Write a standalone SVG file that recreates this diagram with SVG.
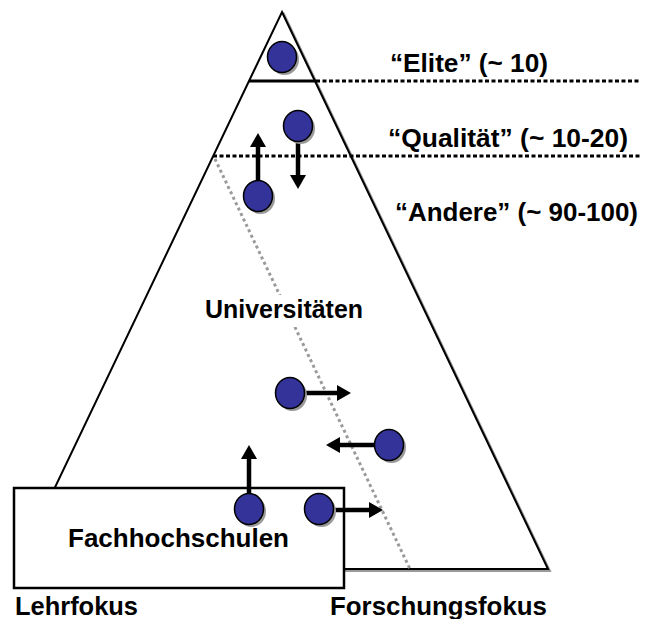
<svg xmlns="http://www.w3.org/2000/svg" width="650" height="619" viewBox="0 0 650 619">
<defs>
<style>
.lbl{font-family:"Liberation Sans",Arial,sans-serif;font-weight:bold;font-size:26px;fill:#000}
.dot{fill:#333399;stroke:#000;stroke-width:1.5}
.sh{fill:#9a9a9a}
.arr{stroke:#000;stroke-width:4.5;fill:none;marker-end:url(#ah)}
.blk{stroke:#000;stroke-width:3;stroke-dasharray:4 2.5;fill:none}
</style>
<marker id="ah" viewBox="0 0 14 16" refX="2" refY="8" markerWidth="14" markerHeight="16" markerUnits="userSpaceOnUse" orient="auto">
<path d="M0,0 L14,8 L0,16 z" fill="#000"/>
</marker>
</defs>
<rect width="650" height="619" fill="#fff"/>
<g id="pyramid">
<polygon points="284,14 550,571 18,571" fill="none" stroke="#9a9a9a" stroke-width="2"/>
<polygon points="282,12 548,569 16,569" fill="#fff" stroke="#000" stroke-width="2"/>
<line x1="249" y1="81" x2="316" y2="81" stroke="#000" stroke-width="3"/>
</g>
<g id="connectors">
<line x1="316" y1="81" x2="640" y2="81" class="blk"/>
<line x1="213" y1="156" x2="640" y2="156" class="blk"/>
<line x1="215" y1="159" x2="410" y2="569" stroke="#9a9a9a" stroke-width="3" stroke-dasharray="3 3"/>
</g>
<g id="universitaeten">
<rect x="200" y="295" width="168" height="32" fill="#fff"/>
<text class="lbl" x="205" y="318" textLength="158" lengthAdjust="spacingAndGlyphs">Universitäten</text>
</g>
<g id="fachhochschulen">
<rect x="14" y="488" width="330" height="100" fill="#fff" stroke="#000" stroke-width="2.5"/>
<text class="lbl" x="68" y="547" textLength="221" lengthAdjust="spacingAndGlyphs">Fachhochschulen</text>
</g>
<g id="arrows">
<line x1="258" y1="182" x2="258" y2="145" class="arr"/>
<line x1="298" y1="141" x2="298" y2="177" class="arr"/>
<line x1="304" y1="393" x2="339" y2="393" class="arr"/>
<line x1="375" y1="445" x2="338" y2="445" class="arr"/>
<line x1="249" y1="494" x2="249" y2="457" class="arr"/>
<line x1="333" y1="510" x2="371" y2="510" class="arr"/>
</g>
<g id="dots">
<ellipse class="sh" cx="284.5" cy="59.5" rx="14.5" ry="15.5"/>
<ellipse class="dot" cx="282" cy="57" rx="14.5" ry="15.5"/>
<ellipse class="sh" cx="300.5" cy="128.5" rx="14.5" ry="15.5"/>
<ellipse class="dot" cx="298" cy="126" rx="14.5" ry="15.5"/>
<ellipse class="sh" cx="260.5" cy="198.5" rx="14.5" ry="15.5"/>
<ellipse class="dot" cx="258" cy="196" rx="14.5" ry="15.5"/>
<ellipse class="sh" cx="292.5" cy="395.5" rx="14.5" ry="15.5"/>
<ellipse class="dot" cx="290" cy="393" rx="14.5" ry="15.5"/>
<ellipse class="sh" cx="391.5" cy="447.5" rx="14.5" ry="15.5"/>
<ellipse class="dot" cx="389" cy="445" rx="14.5" ry="15.5"/>
<ellipse class="sh" cx="251.5" cy="511.5" rx="14.5" ry="15.5"/>
<ellipse class="dot" cx="249" cy="509" rx="14.5" ry="15.5"/>
<ellipse class="sh" cx="321.5" cy="511.5" rx="14.5" ry="15.5"/>
<ellipse class="dot" cx="319" cy="509" rx="14.5" ry="15.5"/>
</g>
<g id="labels">
<text class="lbl" x="390" y="72" textLength="158" lengthAdjust="spacingAndGlyphs">“Elite” (~ 10)</text>
<text class="lbl" x="388" y="147" textLength="240" lengthAdjust="spacingAndGlyphs">“Qualität” (~ 10-20)</text>
<text class="lbl" x="395" y="221" textLength="243" lengthAdjust="spacingAndGlyphs">“Andere” (~ 90-100)</text>
<text class="lbl" x="15" y="615" textLength="123" lengthAdjust="spacingAndGlyphs">Lehrfokus</text>
<text class="lbl" x="330" y="615" textLength="217" lengthAdjust="spacingAndGlyphs">Forschungsfokus</text>
</g>
</svg>
